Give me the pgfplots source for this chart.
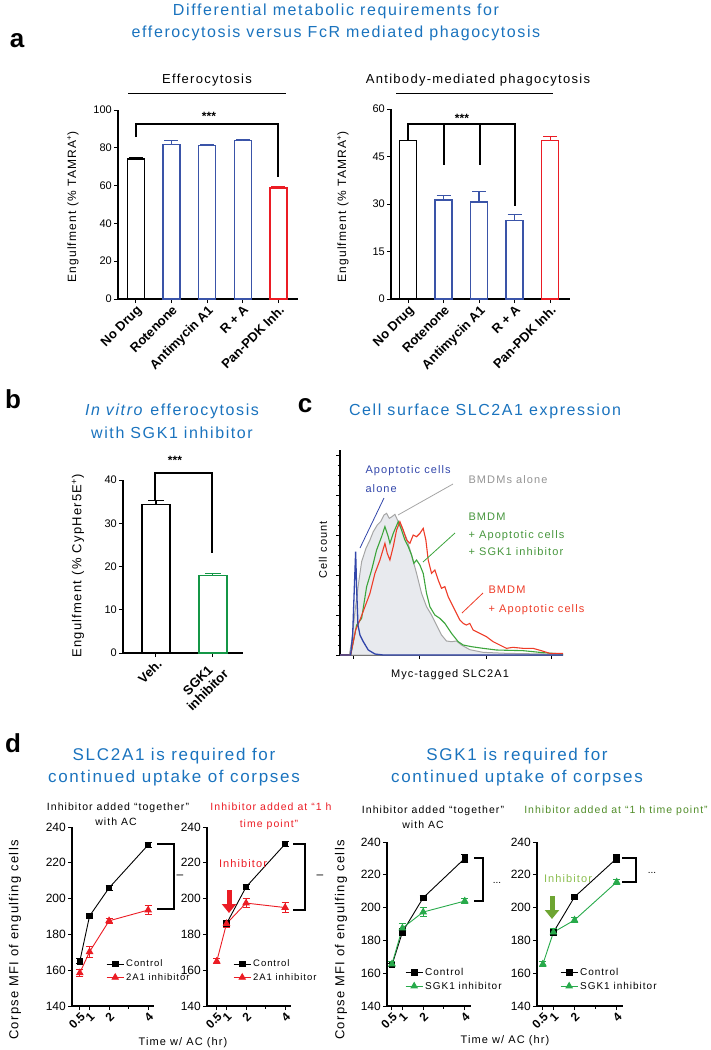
\documentclass[border=0pt]{standalone}
\usepackage{fontspec}
\setmainfont{Liberation Sans}
\newfontfamily\ls[LetterSpace=10]{Liberation Sans}
\usepackage{pgfplots}
\pgfplotsset{compat=1.18}
\usetikzlibrary{arrows.meta}
\definecolor{tblue}{RGB}{26,115,190}
\definecolor{bblue}{RGB}{58,84,168}
\definecolor{bred}{RGB}{235,28,36}
\definecolor{bgreen}{RGB}{20,150,70}
\definecolor{dgreen}{RGB}{40,170,75}
\definecolor{hgreen}{RGB}{80,140,40}
\definecolor{lgreen}{RGB}{140,190,80}
\definecolor{agreen}{RGB}{110,165,50}
\definecolor{cgray}{RGB}{165,165,165}
\definecolor{cfill}{RGB}{232,234,238}
\definecolor{cblue}{RGB}{50,70,170}
\definecolor{cred}{RGB}{238,60,40}
\definecolor{cgreen}{RGB}{60,165,60}
\definecolor{ctgreen}{RGB}{70,150,60}
\newcommand\fs[1]{\fontsize{#1}{#1}\ls}
\pgfplotsset{
  base/.style={scale only axis, axis lines=left, axis line style={-, line width=1.1pt},
    tick align=outside, major tick length=4pt, minor tick length=2.5pt,
    every tick/.style={black, line width=1pt},
    /pgf/number format/assume math mode=true,
    yticklabel style={font=\fontsize{11}{12}\selectfont, inner sep=2pt},
    xticklabel style={font=\bfseries\fontsize{13}{14}\selectfont, rotate=45, anchor=north east, inner sep=1pt, align=center},
    clip=false},
  barA/.style={ybar, bar width=17pt, bar shift=0pt, line width=1.3pt,
    error bars/y dir=plus, error bars/y explicit,
    error bars/error bar style={line width=1.2pt},
    error bars/error mark options={rotate=90, mark size=7pt, line width=1.2pt}},
  dax/.style={base, ymin=140, ymax=240, ytick={140,160,...,240},
    xtick={0.5,1,2,4}, xticklabels={0.5,1,2,4}, minor xtick={3},
    yticklabel style={font=\fontsize{12}{12}\selectfont},
    xticklabel style={font=\bfseries\fontsize{12}{12}\selectfont},
    legend cell align=left,
    legend style={draw=none, fill=none, inner sep=0pt, anchor=north west, row sep=1pt}},
  ctrl/.style={black, line width=0.9pt, mark=square*, mark size=2.8pt,
    error bars/y dir=both, error bars/y explicit,
    error bars/error bar style={line width=1pt},
    error bars/error mark options={rotate=90, mark size=3.5pt, line width=1pt}},
  inh/.style={#1, line width=0.9pt, mark=triangle*, mark size=3.6pt,
    error bars/y dir=both, error bars/y explicit,
    error bars/error bar style={line width=1pt},
    error bars/error mark options={rotate=90, mark size=3.5pt, line width=1pt}},
}
\begin{document}
\begin{tikzpicture}
\path[use as bounding box] (0pt,0pt) rectangle (711pt,-1050pt);

% ---------------- panel a left
\begin{axis}[base, at={(118pt,-299pt)}, anchor=south west, width=180pt, height=189pt,
  xmin=-0.5, xmax=4.55, ymin=0, ymax=100, ytick={0,20,40,60,80,100},
  xtick={0,1,2,3,4}, xticklabels={No Drug,Rotenone,Antimycin A1,R + A,Pan-PDK Inh.}]
\addplot[barA, color=black, fill=white] coordinates {(0,74) +- (0,0.6)};
\addplot[barA, color=bblue, fill=white] coordinates {(1,81.8) +- (0,2.0) (2,81.1) +- (0,0.8) (3,83.9) +- (0,0.6)};
\addplot[barA, color=bred, fill=white] coordinates {(4,58.7) +- (0,0.8)};
\end{axis}

% ---------------- panel a right
\begin{axis}[base, at={(391pt,-299pt)}, anchor=south west, width=179pt, height=190pt,
  xmin=-0.48, xmax=4.56, ymin=0, ymax=60, ytick={0,15,30,45,60},
  xtick={0,1,2,3,4}, xticklabels={No Drug,Rotenone,Antimycin A1,R + A,Pan-PDK Inh.}]
\addplot[barA, color=black, fill=white] coordinates {(0,50.0) +- (0,0)};
\addplot[barA, color=bblue, fill=white] coordinates {(1,31.3) +- (0,1.5) (2,30.6) +- (0,3.3) (3,24.7) +- (0,2.1)};
\addplot[barA, color=bred, fill=white] coordinates {(4,50.1) +- (0,1.1)};
\end{axis}

% ---------------- panel b
\begin{axis}[base, at={(123pt,-653pt)}, anchor=south west, width=120pt, height=173pt,
  xmin=-0.58, xmax=1.53, ymin=0, ymax=40, ytick={0,10,20,30,40},
  xtick={0,1}, xticklabels={Veh.,SGK1\\inhibitor}]
\addplot[barA, bar width=28pt, error bars/error mark options={rotate=90, mark size=8pt, line width=1.2pt}, color=black, fill=white] coordinates {(0,34.3) +- (0,1.0)};
\addplot[barA, bar width=28pt, error bars/error mark options={rotate=90, mark size=8pt, line width=1.2pt}, color=bgreen, fill=white] coordinates {(1,18.0) +- (0,0.3)};
\end{axis}

% ---------------- panel c
\begin{axis}[base, at={(340pt,-655pt)}, anchor=south west, width=223pt, height=205pt,
  xmin=150, xmax=820, ymin=0, ymax=615,
  xtick={190,390,590,785}, xticklabels={}, ytick={0,120,240,360,480,600}, yticklabels={},
  minor x tick num=4, minor y tick num=3]
\addplot[fill=cfill, draw=cgray, line width=1pt] coordinates {
(150,0) (178,0) (185,40) (195,130) (205,210) (215,280) (228,320) (240,345) (250,370)
(262,390) (272,400) (282,420) (290,425) (298,410) (306,415) (315,422) (325,400) (335,385)
(350,350) (365,300) (380,245) (395,185) (410,145) (425,120) (440,90) (455,60) (470,42)
(485,40) (500,42) (515,30) (540,16) (580,8) (650,5) (820,2)} \closedcycle;
\addplot[cgreen, line width=1.1pt] coordinates {
(150,0) (182,0) (190,40) (200,90) (215,110) (230,205) (245,255) (260,315) (275,355) (285,385)
(295,355) (300,335) (310,365) (325,400) (335,375) (345,345) (355,325) (365,300) (372,275)
(380,285) (390,270) (400,245) (410,185) (420,145) (435,120) (450,110) (465,95) (485,65)
(505,40) (520,30) (545,25) (580,20) (620,15) (700,13) (760,7) (820,3)};
\addplot[cred, line width=1.1pt] coordinates {
(150,0) (182,0) (190,40) (197,75) (210,105) (225,145) (240,185) (255,245) (270,285) (285,335)
(292,305) (300,285) (310,325) (320,375) (330,400) (340,375) (350,345) (360,335) (370,360)
(380,355) (390,365) (400,380) (408,345) (415,285) (425,245) (435,255) (445,225) (455,200)
(465,205) (475,175) (490,145) (500,125) (510,105) (520,95) (530,90) (540,95) (550,75)
(570,65) (590,55) (610,40) (630,30) (650,20) (670,23) (700,20) (730,20) (755,13) (780,5) (820,5)};
\addplot[cblue, line width=1.3pt] coordinates {
(150,0) (182,0) (188,60) (193,200) (197,310) (200,200) (204,90) (210,60) (220,40)
(235,15) (255,3) (280,0) (820,0)};
\end{axis}

% ---------------- panel d1
\begin{axis}[dax, at={(72pt,-1006pt)}, anchor=south west, width=82pt, height=179pt,
  xmin=0.1, xmax=4.3,
  legend style={at={(0.415,0.27)}, font=\fontsize{9.5}{10}\ls}]
\addplot[ctrl] coordinates {(0.5,165) +- (0,1.5) (1,190.3) +- (0,1.5) (2,206) +- (0,1.5) (4,230) +- (0,1.5)};
\addplot[inh=bred] coordinates {(0.5,158.5) +- (0,2) (1,170.3) +- (0,3) (2,187.6) +- (0,1.5) (4,193.6) +- (0,2.5)};
\legend{Control, 2A1 inhibitor}
\end{axis}

% ---------------- panel d2
\begin{axis}[dax, at={(207pt,-1006pt)}, anchor=south west, width=84pt, height=179pt,
  xmin=0, xmax=4.3,
  legend style={at={(0.31,0.27)}, font=\fontsize{9.5}{10}\ls}]
\addplot[ctrl] coordinates {(1,186) +- (0,1.5) (2,206.5) +- (0,1.5) (4,230.5) +- (0,1.5)};
\addplot[inh=bred] coordinates {(0.5,165) +- (0,1.5) (1,186) +- (0,2) (2,197.5) +- (0,2.5) (4,195) +- (0,3)};
\legend{Control, 2A1 inhibitor}
\end{axis}

% ---------------- panel d3
\begin{axis}[dax, at={(387pt,-1006pt)}, anchor=south west, width=84pt, height=164pt,
  xmin=0.26, xmax=4.3,
  legend style={at={(0.214,0.245)}, font=\fontsize{10}{10}\ls}]
\addplot[ctrl] coordinates {(0.5,165) +- (0,1) (1,185) +- (0,2) (2,206) +- (0,1.5) (4,230) +- (0,2.5)};
\addplot[inh=dgreen] coordinates {(0.5,165.6) +- (0,1.5) (1,187.5) +- (0,3) (2,197.3) +- (0,2.5) (4,204) +- (0,1.5)};
\legend{Control, SGK1 inhibitor}
\end{axis}

% ---------------- panel d4
\begin{axis}[dax, at={(537pt,-1006pt)}, anchor=south west, width=86pt, height=164pt,
  xmin=0.22, xmax=4.3,
  legend style={at={(0.267,0.245)}, font=\fontsize{10}{10}\ls}]
\addplot[ctrl] coordinates {(1,185) +- (0,1) (2,206.5) +- (0,1.5) (4,230) +- (0,2.5)};
\addplot[inh=dgreen] coordinates {(0.5,165.6) +- (0,1.5) (1,185) +- (0,2) (2,192.4) +- (0,1.5) (4,215.6) +- (0,1.5)};
\legend{Control, SGK1 inhibitor}
\end{axis}

% ---------------- annotations (pixel coordinates, y down)
\begin{scope}[x=1pt, y=-1pt]
% panel letters
\node[anchor=base, font=\bfseries\fontsize{26}{26}\selectfont] at (17,47) {a};
\node[anchor=base, font=\bfseries\fontsize{26}{26}\selectfont] at (13,408) {b};
\node[anchor=base, font=\bfseries\fontsize{26}{26}\selectfont] at (305,412) {c};
\node[anchor=base, font=\bfseries\fontsize{26}{26}\selectfont] at (13,752) {d};

% titles
\node[anchor=base, tblue, font=\fs{16}] at (336,15) {Differential metabolic requirements for};
\node[anchor=base, tblue, font=\fs{16}] at (336,37) {efferocytosis versus FcR mediated phagocytosis};
\node[anchor=base, tblue, font=\fs{16}] at (172,415) {\textit{In vitro} efferocytosis};
\node[anchor=base, tblue, font=\fs{16}] at (172,438) {with SGK1 inhibitor};
\node[anchor=base, tblue, font=\fs{16}] at (485,415) {Cell surface SLC2A1 expression};
\node[anchor=base, tblue, font=\fs{17}] at (174,760) {SLC2A1 is required for};
\node[anchor=base, tblue, font=\fs{17}] at (174,782) {continued uptake of corpses};
\node[anchor=base, tblue, font=\fs{17}] at (517,760) {SGK1 is required for};
\node[anchor=base, tblue, font=\fs{17}] at (517,782) {continued uptake of corpses};

% panel a subtitles and brackets
\node[anchor=base, font=\fs{13}] at (207,83) {Efferocytosis};
\draw[line width=1pt] (128,93) -- (286,93);
\node[anchor=base, font=\fs{13}] at (478,83) {Antibody-mediated phagocytosis};
\draw[line width=1pt] (396,93) -- (553,93);
\node[rotate=90, font=\fs{12}] at (73,207) {Engulfment (\% TAMRA\textsuperscript{+})};
\node[rotate=90, font=\fs{12}] at (343,207) {Engulfment (\% TAMRA\textsuperscript{+})};
\draw[line width=1.1pt] (136,137) -- (136,124) -- (278,124) -- (278,177);
\node[anchor=base, font=\bfseries\fontsize{12}{12}\selectfont] at (209,120) {***};
\draw[line width=1.1pt] (408,140) -- (408,124) -- (515,124) -- (515,206);
\draw[line width=1.1pt] (444,124) -- (444,165);
\draw[line width=1.1pt] (480,124) -- (480,165);
\node[anchor=base, font=\bfseries\fontsize{12}{12}\selectfont] at (462,122) {***};

% panel b
\node[rotate=90, font=\fs{13}] at (78,566) {Engulfment (\% CypHer5E\textsuperscript{+})};
\draw[line width=1.1pt] (155,500) -- (155,473) -- (212,473) -- (212,553);
\node[anchor=base, font=\bfseries\fontsize{12}{12}\selectfont] at (175,464) {***};

% panel c
\node[rotate=90, font=\fs{11}] at (323,550) {Cell count};
\node[anchor=base, font=\fs{11}] at (450,677) {Myc-tagged SLC2A1};
\node[anchor=base west, cblue, font=\fs{11}] at (362,473) {Apoptotic cells};
\node[anchor=base west, cblue, font=\fs{11}] at (362,492) {alone};
\draw[cblue, line width=0.8pt] (360,548) -- (384,498);
\node[anchor=base west, cgray!90!black, font=\fs{11}] at (465,483) {BMDMs alone};
\draw[cgray, line width=0.8pt] (398,515) -- (453,484);
\node[anchor=base west, ctgreen, font=\fs{11}] at (465,520) {BMDM};
\node[anchor=base west, ctgreen, font=\fs{11}] at (465,538) {+ Apoptotic cells};
\node[anchor=base west, ctgreen, font=\fs{11}] at (465,555) {+ SGK1 inhibitor};
\draw[cgreen, line width=0.8pt] (423,562) -- (455,533);
\node[anchor=base west, cred, font=\fs{11}] at (485,593) {BMDM};
\node[anchor=base west, cred, font=\fs{11}] at (485,612) {+ Apoptotic cells};
\draw[cred, line width=0.8pt] (462,613) -- (483,593);

% panel d headers
\node[anchor=base, font=\fs{10.5}] at (118,810) {Inhibitor added “together”};
\node[anchor=base, font=\fs{10.5}] at (116,825) {with AC};
\node[anchor=base, bred, font=\fs{10.5}] at (271,810) {Inhibitor added at “1 h};
\node[anchor=base, bred, font=\fs{10.5}] at (269,827) {time point”};
\node[anchor=base, font=\fs{10.5}] at (433,813) {Inhibitor added “together”};
\node[anchor=base, font=\fs{10.5}] at (423,828) {with AC};
\node[anchor=base, hgreen, font=\fs{10.5}] at (616,813) {Inhibitor added at “1 h time point”};

% panel d axis labels
\node[rotate=90, font=\fs{13}] at (15,940) {Corpse MFI of engulfing cells};
\node[rotate=90, font=\fs{13}] at (341,940) {Corpse MFI of engulfing cells};
\node[anchor=base, font=\fs{11}] at (183,1045) {Time w/ AC (hr)};
\node[anchor=base, font=\fs{11}] at (505,1043) {Time w/ AC (hr)};

% panel d brackets and signs
\draw[line width=1.1pt] (157,844) -- (174,844) -- (174,909) -- (157,909);
\node[font=\fontsize{12}{12}\selectfont] at (180,877) {–};
\draw[line width=1.1pt] (293,844) -- (305,844) -- (305,910) -- (293,910);
\node[font=\fontsize{12}{12}\selectfont] at (320,877) {–};
\draw[line width=1.1pt] (474,858) -- (483,858) -- (483,901) -- (474,901);
\node[anchor=base, font=\fontsize{10}{10}\selectfont] at (497,883) {...};
\draw[line width=1.1pt] (622,858) -- (636,858) -- (636,882) -- (622,882);
\node[anchor=base, font=\fontsize{10}{10}\selectfont] at (652,873) {...};

% inhibitor arrows
\node[anchor=base, bred, font=\fs{11}] at (243,867) {Inhibitor};
\draw[bred, line width=5pt, -{Triangle[width=14pt,length=9pt]}] (229,890) -- (229,913);
\node[anchor=base, lgreen, font=\fs{11}] at (568,882) {Inhibitor};
\draw[agreen, line width=5pt, -{Triangle[width=14pt,length=9pt]}] (552,896) -- (552,919);
\end{scope}
\end{tikzpicture}
\end{document}
